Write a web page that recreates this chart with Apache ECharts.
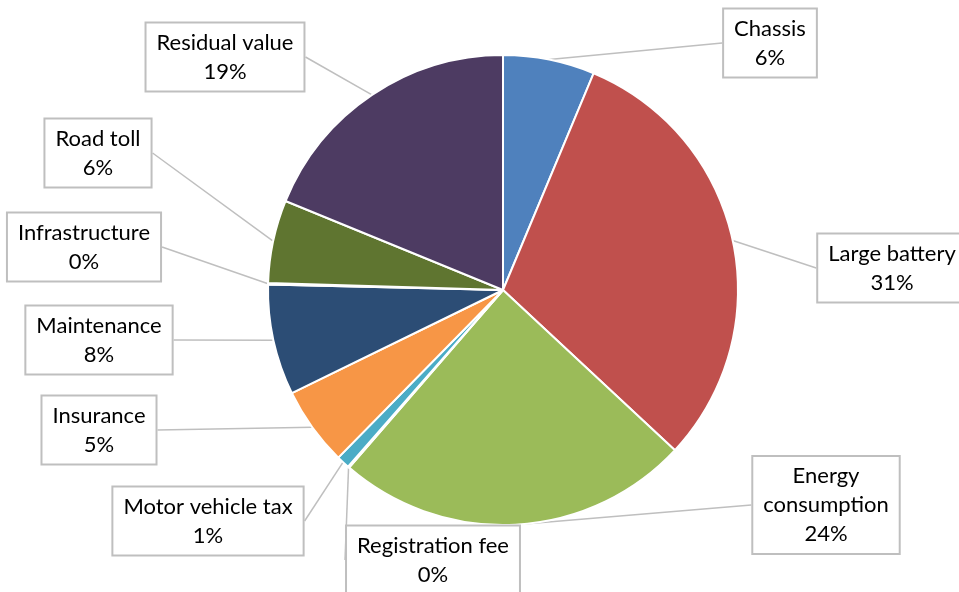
<!DOCTYPE html>
<html>
<head>
<meta charset="utf-8">
<script src="https://cdn.jsdelivr.net/npm/echarts@6/dist/echarts.min.js"></script>
<style>
  html, body { margin: 0; padding: 0; background: #fff; }
  #chart { width: 959px; height: 592px; }
</style>
</head>
<body>
<div id="chart"></div>
<script>
// cost components (share of total, %)
var categories = ['Chassis', 'Large battery', 'Energy\nconsumption', 'Registration fee', 'Motor vehicle tax',
  'Insurance', 'Maintenance', 'Infrastructure', 'Road toll', 'Residual value']
var shares = [6.3, 30.6, 24.4, 0.1, 0.9, 5.4, 7.6, 0.1, 5.7, 18.8]
var colors = ['#4F81BD', '#C0504D', '#9BBB59', '#8064A2', '#4BACC6',
  '#F79646', '#2C4D75', '#772C2A', '#5F7530', '#4D3B62']

// where the callout boxes sit (box centers)
var labelSpots = [
  [770, 43], [892, 268], [826, 505], [433, 560], [208, 521],
  [99, 430], [99, 340], [84, 247], [98, 153], [225, 57]
]

var chart = echarts.init(document.getElementById('chart'))

var options = {
  animation: false,
  series: [
    {
      type: 'pie',
      center: [503, 290],
      radius: 235,
      startAngle: 90,
      clockwise: true,
      avoidLabelOverlap: false,
      itemStyle: {
        borderColor: '#fff',
        borderWidth: 2
      },
      label: {
        show: true,
        position: 'outside',
        formatter: function (p) {
          return p.name + '\n' + Math.round(p.percent) + '%'
        },
        fontFamily: 'Lato',
        fontSize: 22,
        lineHeight: 29,
        color: '#000',
        align: 'center',
        backgroundColor: '#fff',
        borderColor: '#bfbfbf',
        borderWidth: 2,
        padding: [5, 10, 4, 10]
      },
      labelLine: {
        show: true,
        length: 0,
        length2: 0,
        lineStyle: {
          color: '#bfbfbf',
          width: 1.5
        }
      },
      labelLayout: function (params) {
        var spot = labelSpots[params.dataIndex]
        return {
          x: spot[0],
          y: spot[1],
          align: 'center',
          verticalAlign: 'middle'
        }
      },
      data: categories.map(function (name, i) {
        return { name: name, value: shares[i], itemStyle: { color: colors[i] } }
      })
    }
  ]
}

chart.setOption(options)
</script>
</body>
</html>
